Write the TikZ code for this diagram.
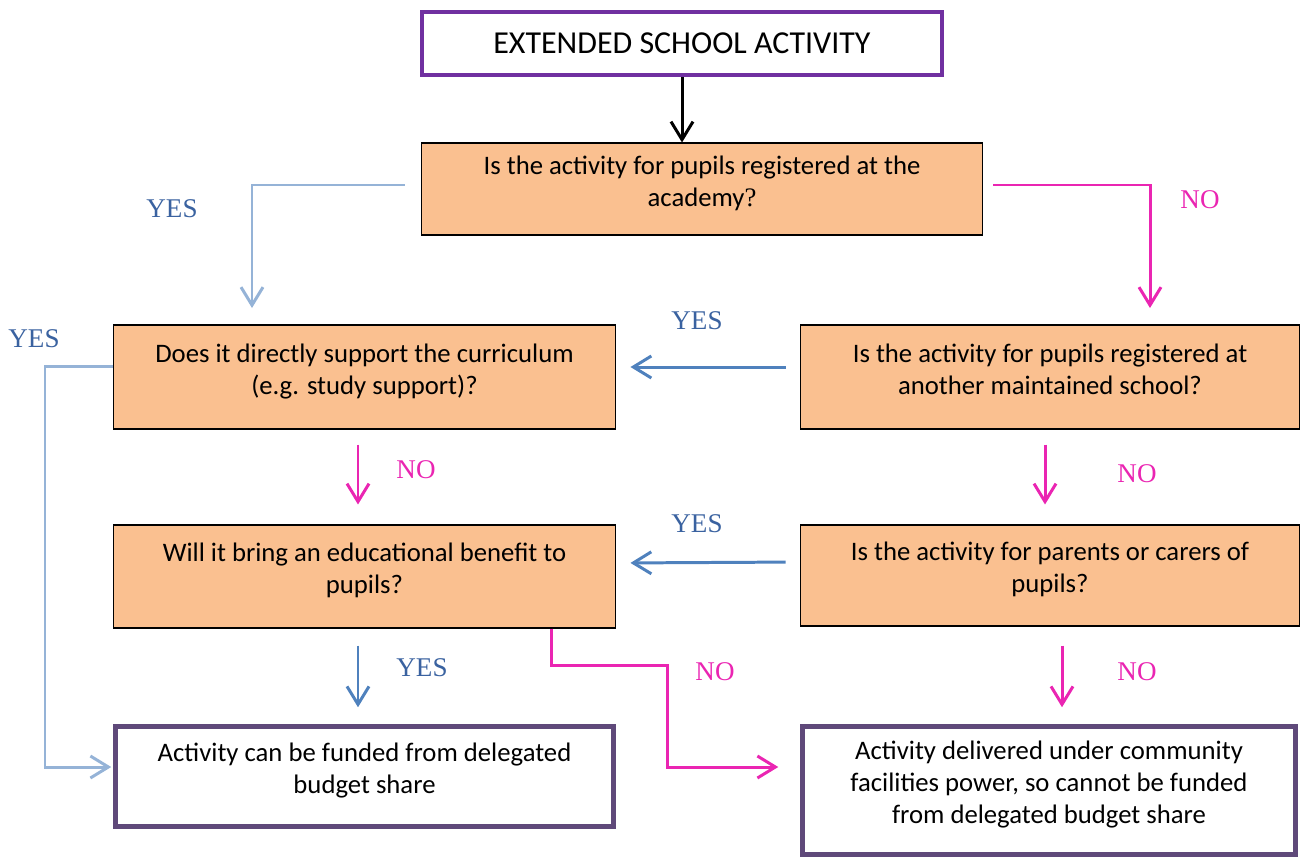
\documentclass[tikz,border=0pt]{standalone}
\usepackage{fontspec}
\setmainfont{Carlito}
\newfontfamily\tnr{Liberation Serif}
\usetikzlibrary{arrows.meta}
\definecolor{boxorange}{HTML}{FAC090}
\definecolor{titlepurple}{HTML}{7030A0}
\definecolor{endpurple}{HTML}{5F497A}
\definecolor{paleblue}{HTML}{95B3D7}
\definecolor{midblue}{HTML}{4F81BD}
\definecolor{labelblue}{HTML}{3A62A0}
\definecolor{magenta}{HTML}{EA25B2}
\newcommand\qfont{\fontsize{15.2}{18.2}\selectfont}
\newcommand\lblfont{\tnr\fontsize{15.4}{18}\selectfont}
\newcommand\lift{\rule[-9pt]{0pt}{9pt}}

\begin{document}
\begin{tikzpicture}[x=0.02cm,y=-0.02cm,
    question/.style={draw=black,line width=0.6pt,fill=boxorange,align=center,font=\qfont,inner sep=0pt},
    outcome/.style={draw=endpurple,line width=2.6pt,fill=white,align=center,font=\qfont,inner sep=0pt},
    flow/.style={line width=1.7pt,-{Straight Barb[length=0.36cm,width=0.44cm,line width=1.7pt]}},
    yesline/.style={flow,paleblue},
    yesarrow/.style={flow,midblue},
    noarrow/.style={flow,magenta},
    yeslbl/.style={font=\lblfont,text=labelblue},
    nolbl/.style={font=\lblfont,text=magenta}]

    \useasboundingbox (0,0) rectangle (1301,859);

    \node[draw=titlepurple,line width=2.3pt,fill=white,minimum width=10.4cm,minimum height=1.26cm,
          font=\fontsize{18.2}{21}\selectfont] (title) at (682,43.5) {EXTENDED SCHOOL ACTIVITY};

    \node[question,minimum width=11.24cm,minimum height=1.84cm] (academy) at (702,189)
        {Is the activity for pupils registered at the\\academy{\tnr ?}\lift};
    \node[question,minimum width=10.06cm,minimum height=2.08cm] (curriculum) at (364.5,377)
        {Does it directly support the curriculum\\(e.g. study support)?\lift};
    \node[question,minimum width=10cm,minimum height=2.08cm] (maintained) at (1050,377)
        {Is the activity for pupils registered at\\another maintained school?\lift};
    \node[question,minimum width=10.06cm,minimum height=2.06cm] (benefit) at (364.5,576.5)
        {Will it bring an educational benefit to\\pupils?\lift};
    \node[question,minimum width=10cm,minimum height=2.02cm] (parents) at (1050,575.5)
        {Is the activity for parents or carers of\\pupils?\lift};

    \node[outcome,minimum width=9.96cm,minimum height=2.0cm] (funded) at (364.5,776.5)
        {Activity can be funded from delegated\\budget share\lift};
    \node[outcome,minimum width=9.86cm,minimum height=2.56cm] (community) at (1049,790.5)
        {Activity delivered under community\\facilities power, so cannot be funded\\from delegated budget share\lift};

    \coordinate (yesbend) at (252,308);
    \coordinate (nobend) at (1150,308);
    \coordinate (leftrail) at (45,560);
    \coordinate (nostep) at (667,665);

    \draw[flow,black] (title.south) -- (title.south |- academy.north);
    \draw[yesline] ([shift={(-16,-4)}]academy.west) -| (yesbend);
    \draw[noarrow] ([shift={(10,-4)}]academy.east) -| (nobend);
    \draw[yesarrow,shorten <=0.28cm,shorten >=0.28cm] ([yshift=0.2cm]maintained.west) -- ([yshift=0.2cm]curriculum.east);
    \draw[yesline,shorten >=0.04cm] ([yshift=0.22cm]curriculum.west) -| (leftrail) |- ([yshift=0.19cm]funded.west);
    \draw[noarrow,shorten <=0.3cm,shorten >=0.4cm] ([xshift=-0.13cm]curriculum.south) -- ([xshift=-0.13cm]benefit.north);
    \draw[noarrow,shorten <=0.3cm,shorten >=0.4cm] ([xshift=-0.1cm]maintained.south) -- ([xshift=-0.1cm]parents.north);
    \draw[yesarrow,shorten <=0.28cm,shorten >=0.28cm] ([yshift=0.27cm]parents.west) -- ([yshift=0.27cm]benefit.east);
    \draw[yesarrow,shorten <=0.34cm,shorten >=0.34cm] ([xshift=-0.13cm]benefit.south) -- ([xshift=-0.13cm]funded.north);
    \draw[noarrow,shorten >=0.44cm] ([xshift=3.75cm]benefit.south) |- (nostep) |- ([yshift=0.47cm]community.west);
    \draw[noarrow,shorten <=0.38cm,shorten >=0.34cm] ([xshift=0.24cm]parents.south) -- ([xshift=0.24cm]parents.south |- community.north);

    \node[yeslbl] (yes1) at (172,209) {YES};
    \node[nolbl] (no1) at (1200,200) {NO};
    \node[yeslbl] (yes2) at (34,339) {YES};
    \node[yeslbl] (yes3) at (697,321) {YES};
    \node[nolbl] (no2) at (416,470) {NO};
    \node[nolbl] (no3) at (1137,474) {NO};
    \node[yeslbl] (yes4) at (697,524) {YES};
    \node[yeslbl] (yes5) at (422,668) {YES};
    \node[nolbl] (no4) at (715,672) {NO};
    \node[nolbl] (no5) at (1137,672) {NO};
\end{tikzpicture}
\end{document}
